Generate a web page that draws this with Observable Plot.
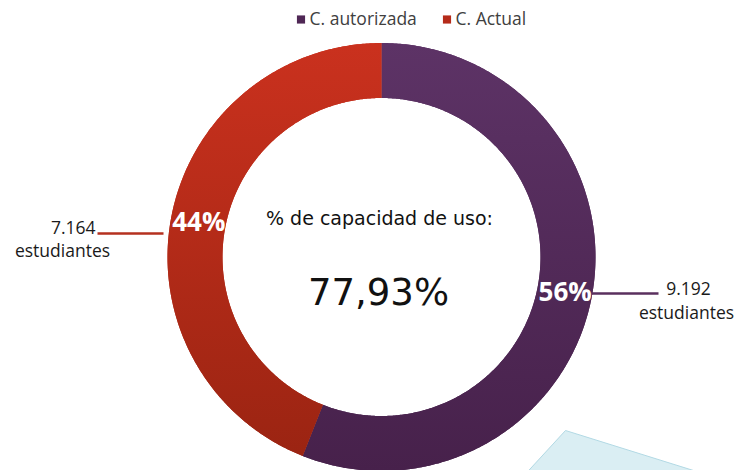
<!DOCTYPE html>
<html><head><meta charset="utf-8">
<script src="https://cdn.jsdelivr.net/npm/d3@7"></script>
<script src="https://cdn.jsdelivr.net/npm/@observablehq/plot@0.6"></script>
<style>body{margin:0;background:#fff;overflow:hidden}</style>
</head><body><div id="chart"></div>
<script>
// ---- data ----
const categories = ["C. autorizada", "C. Actual"];
const percents = [56, 44];
const studentCounts = ["9.192", "7.164"];
const studentWord = "estudiantes";
const centerTitle = "% de capacidad de uso:";
const centerValue = "77,93%";
// decorative light-blue shape (data units: centre of donut = 0,0)
const decoShape = [[137.5, -223], [183.5, -173], [343.5, -223]];

// ---- styles / layout ----
const W = 735, H = 470;
const cx = 381.5, cy = 257;          // donut centre in pixels
const R = 214, r = 159;              // radii
const topColors = ["#5d3366", "#ca311e"];
const bottomColors = ["#47214b", "#9b2412"];
const legendColors = ["#4f2755", "#b52b1a"];
const lineColors = ["#5a2f5e", "#b5301f"];

const pie = d3.pie().sort(null).value(d => d.v)(categories.map((c, i) => ({c, v: percents[i], i})));
const pol = (a, rho) => [rho * Math.sin(a), rho * Math.cos(a)];

const ringPts = pie.map(s => {
  const pts = [];
  const n = Math.ceil((s.endAngle - s.startAngle) / (Math.PI / 360));
  for (let k = 0; k <= n; k++) {
    const a = s.startAngle + (s.endAngle - s.startAngle) * k / n;
    const [xo, yo] = pol(a, R), [xi, yi] = pol(a, r);
    pts.push({xo, yo, xi, yi});
  }
  return pts;
});
const mids = pie.map(s => {
  const a = (s.startAngle + s.endAngle) / 2;
  const [x, y] = pol(a, (R + r) / 2);
  return {x, y, label: percents[s.index] + "%", i: s.index};
});

const defs = () => {
  const g = d3.create("svg:defs");
  categories.forEach((c, i) => {
    const lg = g.append("linearGradient").attr("id", "grad" + i).attr("x1", 0).attr("y1", 0).attr("x2", 0).attr("y2", 1);
    lg.append("stop").attr("offset", "0%").attr("stop-color", topColors[i]);
    lg.append("stop").attr("offset", "100%").attr("stop-color", bottomColors[i]);
  });
  const f = g.append("filter").attr("id", "shadow").attr("x", "-10%").attr("y", "-10%").attr("width", "120%").attr("height", "120%");
  f.append("feDropShadow").attr("dx", 0.5).attr("dy", 2).attr("stdDeviation", 1.6).attr("flood-color", "#000").attr("flood-opacity", 0.35);
  return g.node();
};

// label geometry (pixels -> data units)
const X = px => px - cx, Y = py => cy - py;
const leaders = [
  {x1: X(590), x2: X(658), y: Y(293), i: 0},
  {x1: X(97), x2: X(163), y: Y(233), i: 1}
];
const legendItems = [
  {sx: X(300.5), tx: X(309), y: Y(19), t: categories[0], i: 0},
  {sx: X(446.5), tx: X(455), y: Y(19), t: categories[1], i: 1}
];

const chart = Plot.plot({
  width: W, height: H,
  margin: 0,
  x: {domain: [-cx, W - cx], axis: null},
  y: {domain: [cy - H, cy], axis: null},
  marks: [
    defs,
    Plot.line(decoShape, {x: d => d[0], y: d => d[1], fill: "#daeef3", stroke: "#b2d9e4", strokeWidth: 1}),
    ...ringPts.map((pts, i) => Plot.area(pts, {x1: "xo", y1: "yo", x2: "xi", y2: "yi", fill: `url(#grad${i})`, style: {filter: "url(#shadow)"}})),
    ...ringPts.map((pts, i) => Plot.area(pts, {x1: "xo", y1: "yo", x2: "xi", y2: "yi", fill: `url(#grad${i})`})),
    Plot.link(leaders, {x1: "x1", x2: "x2", y1: "y", y2: "y", stroke: d => lineColors[d.i], strokeWidth: 2.5}),
    Plot.text(mids, {x: "x", y: "y", text: "label", fill: "white", fontSize: 26, fontWeight: "bold", fontFamily: "Open Sans"}),
    Plot.text([studentCounts[0]], {x: X(688), y: Y(289), text: d => d, fill: "#1a1a1a", fontSize: 17.5, fontFamily: "Open Sans"}),
    Plot.text([studentCounts[1]], {x: X(95), y: Y(228), text: d => d, textAnchor: "end", fill: "#1a1a1a", fontSize: 17.5, fontFamily: "Open Sans"}),
    Plot.text([studentWord, studentWord], {x: [X(686), X(62)], y: [Y(313), Y(251)], text: d => d, fill: "#1a1a1a", fontSize: 17.5, fontFamily: "Open Sans"}),
    Plot.text([centerTitle], {x: X(379), y: Y(218), text: d => d, fill: "#111", fontSize: 19, fontFamily: "DejaVu Sans"}),
    Plot.text([centerValue], {x: X(378), y: Y(293), text: d => d, fill: "#111", fontSize: 37, fontFamily: "DejaVu Sans"}),
    Plot.dot(legendItems, {x: "sx", y: "y", symbol: "square", r: 4.6, fill: d => legendColors[d.i]}),
    Plot.text(legendItems, {x: "tx", y: "y", text: "t", textAnchor: "start", fill: "#404040", fontSize: 17.5, fontFamily: "Open Sans"})
  ]
});
document.getElementById("chart").append(chart);
</script>
</body></html>
